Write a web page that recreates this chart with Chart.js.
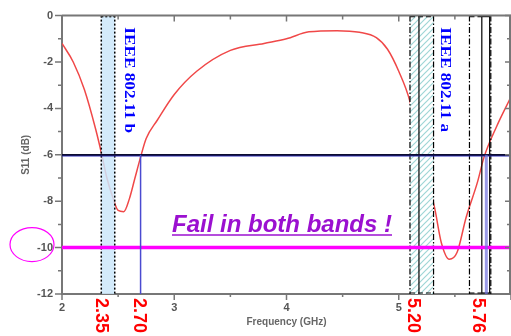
<!DOCTYPE html>
<html lang="en">
<head>
  <meta charset="UTF-8" />
  <title>S11</title>
  <script src="https://cdn.jsdelivr.net/npm/chart.js"></script>
  <style>
    body { margin: 0; background: #ffffff; }
    canvas { display: block; }
  </style>
</head>
<body>
  <canvas id="s11Chart" width="511" height="336"></canvas>

  <script>
    // measured curve
    const freq = [2.0, 2.1, 2.2, 2.3, 2.35, 2.4, 2.45, 2.5, 2.55, 2.6, 2.65, 2.7, 2.75, 2.85, 3.0, 3.2, 3.5, 3.8, 4.0, 4.2, 4.45, 4.65, 4.8, 4.9, 5.0, 5.1, 5.2, 5.32, 5.38, 5.45, 5.52, 5.6, 5.7, 5.76, 5.87, 6.0];
    const s11 = [-1.2, -2.0, -3.2, -4.9, -5.9, -7.0, -7.8, -8.4, -8.45, -7.9, -7.0, -6.1, -5.3, -4.5, -3.4, -2.4, -1.5, -1.2, -1.0, -0.7, -0.65, -0.72, -0.95, -1.45, -2.4, -3.7, -6.0, -8.3, -9.8, -10.5, -10.2, -8.7, -7.2, -6.1, -4.8, -3.5];

    // bands / markers (GHz)
    const bandB = [2.35, 2.47];
    const bandA = [5.10, 5.31];
    const bandAMid = 5.18;
    const bandC = [5.63, 5.82];
    const bandCInner = [5.74, 5.81];
    const markerLines = [2.70, 5.78];
    const limits = [-6, -10];
    const redLabels = ['2.35', '2.70', '5.20', '5.76'];
    const redLabelAt = [2.35, 2.69, 5.125, 5.71];
    const bandTexts = ['IEEE 802.11 b', 'IEEE 802.11 a'];
    const bandTextAt = [2.595, 5.415];

    function hatch() {
      const c = document.createElement('canvas');
      c.width = 6; c.height = 6;
      const g = c.getContext('2d');
      g.fillStyle = '#ffffff';
      g.fillRect(0, 0, 6, 6);
      g.strokeStyle = '#9fd6d6';
      g.lineWidth = 1.2;
      g.beginPath();
      g.moveTo(0, 6); g.lineTo(6, 0);
      g.moveTo(-3, 3); g.lineTo(3, -3);
      g.moveTo(3, 9); g.lineTo(9, 3);
      g.stroke();
      return g.createPattern(c, 'repeat');
    }

    const extras = {
      id: 'extras',
      afterDatasetsDraw(chart) {
        const ctx = chart.ctx;
        const x = chart.scales.x, y = chart.scales.y;
        const a = chart.chartArea;
        const px = v => x.getPixelForValue(v);
        const py = v => y.getPixelForValue(v);

        const vline = (v, dash, color, w) => {
          ctx.save();
          ctx.strokeStyle = color; ctx.lineWidth = w; ctx.setLineDash(dash);
          ctx.beginPath(); ctx.moveTo(px(v), a.top); ctx.lineTo(px(v), a.bottom); ctx.stroke();
          ctx.restore();
        };
        const hseg = (v0, v1, yy, dash, color, w) => {
          ctx.save();
          ctx.strokeStyle = color; ctx.lineWidth = w; ctx.setLineDash(dash);
          ctx.beginPath(); ctx.moveTo(px(v0), yy); ctx.lineTo(px(v1), yy); ctx.stroke();
          ctx.restore();
        };

        // 802.11b band
        ctx.save();
        ctx.fillStyle = 'rgba(204,232,250,0.85)';
        ctx.fillRect(px(bandB[0]), a.top, px(bandB[1]) - px(bandB[0]), a.bottom - a.top);
        ctx.restore();
        vline(bandB[0], [2, 2], '#000', 1.5);
        vline(bandB[1], [2, 2], '#000', 1.5);
        hseg(bandB[0], bandB[1], a.top + 1, [2, 2], '#000', 1.5);

        // 802.11a band
        ctx.save();
        ctx.fillStyle = hatch();
        ctx.fillRect(px(bandA[0]), a.top, px(bandA[1]) - px(bandA[0]), a.bottom - a.top);
        ctx.restore();
        const dd = [6, 2, 1.5, 2];
        vline(bandA[0], dd, '#000', 1.2);
        vline(bandA[1], dd, '#000', 1.2);
        vline(bandAMid, [], '#000', 1.2);
        hseg(bandA[0], bandA[1], a.top + 1, [5, 3], '#000', 1.2);
        hseg(bandA[0], bandA[1], a.bottom - 1, [5, 3], '#000', 1.2);

        // 5.76 group
        vline(bandC[0], dd, '#000', 1.2);
        vline(bandC[1], dd, '#000', 1.2);
        hseg(bandC[0], bandCInner[0], a.top + 1, [5, 3], '#000', 1.2);
        hseg(bandC[0], bandCInner[0], a.bottom - 1, [5, 3], '#000', 1.2);
        ctx.save();
        ctx.strokeStyle = '#000'; ctx.lineWidth = 1.2;
        ctx.strokeRect(px(bandCInner[0]), a.top + 1, px(bandCInner[1]) - px(bandCInner[0]), a.bottom - a.top - 2);
        ctx.restore();

        // limit lines
        ctx.save();
        ctx.strokeStyle = '#3030c0'; ctx.lineWidth = 2.5;
        ctx.beginPath(); ctx.moveTo(a.left, py(limits[0]) + 0.5); ctx.lineTo(a.right, py(limits[0]) + 0.5); ctx.stroke();
        ctx.strokeStyle = '#000'; ctx.lineWidth = 1.2;
        ctx.beginPath(); ctx.moveTo(a.left, py(limits[0])); ctx.lineTo(a.right, py(limits[0])); ctx.stroke();
        ctx.strokeStyle = '#ff00ff'; ctx.lineWidth = 3.5;
        ctx.beginPath(); ctx.moveTo(a.left, py(limits[1])); ctx.lineTo(a.right, py(limits[1])); ctx.stroke();
        ctx.restore();

        // blue markers from -6 down
        ctx.save();
        ctx.strokeStyle = '#4a4ad0'; ctx.lineWidth = 1.5;
        ctx.beginPath(); ctx.moveTo(px(markerLines[0]), py(limits[0])); ctx.lineTo(px(markerLines[0]), a.bottom); ctx.stroke();
        ctx.strokeStyle = 'rgba(110,110,220,0.7)'; ctx.lineWidth = 3;
        ctx.beginPath(); ctx.moveTo(px(markerLines[1]), py(limits[0])); ctx.lineTo(px(markerLines[1]), a.bottom); ctx.stroke();
        ctx.restore();

        // band names (tall, narrow serif)
        ctx.save();
        ctx.fillStyle = '#0000ff';
        ctx.font = 'bold 15px "Liberation Serif", serif';
        ctx.textBaseline = 'middle';
        bandTexts.forEach((t, i) => {
          ctx.save();
          ctx.translate(px(bandTextAt[i]), py(-0.5));
          ctx.rotate(Math.PI / 2);
          ctx.scale(1.15, 1);
          ctx.fillText(t, 0, 0);
          ctx.restore();
        });
        ctx.restore();

        // fail text
        ctx.save();
        ctx.fillStyle = '#9b10d0';
        ctx.font = 'italic bold 24px "Liberation Sans", Arial, sans-serif';
        ctx.textBaseline = 'alphabetic';
        const tx = px(2.98), ty = py(-9.33);
        ctx.fillText('Fail in both bands !', tx, ty);
        const w = ctx.measureText('Fail in both bands !').width;
        ctx.strokeStyle = '#9b10d0'; ctx.lineWidth = 1.5;
        ctx.beginPath(); ctx.moveTo(tx, ty + 3); ctx.lineTo(tx + w, ty + 3); ctx.stroke();
        ctx.restore();

        // frame top/right + minor ticks
        ctx.save();
        ctx.strokeStyle = '#777'; ctx.lineWidth = 2;
        ctx.beginPath();
        ctx.moveTo(a.left, a.top); ctx.lineTo(a.right, a.top);
        ctx.moveTo(a.right - 1, a.top); ctx.lineTo(a.right - 1, a.bottom);
        ctx.stroke();
        ctx.lineWidth = 1.5;
        ctx.beginPath();
        for (let f = 2; f <= 6.001; f += 0.5) {
          const major = Math.abs(f - Math.round(f)) < 1e-6;
          const xx = px(f);
          ctx.moveTo(xx, a.top); ctx.lineTo(xx, a.top + (major ? 6 : 4));
          ctx.moveTo(xx, a.bottom); ctx.lineTo(xx, a.bottom + (major ? 6 : 3));
        }
        for (let d = 0; d >= -12; d--) {
          const major = d % 2 === 0;
          const yy = py(d);
          ctx.moveTo(a.left, yy); ctx.lineTo(a.left - (major ? 7 : 4), yy);
          ctx.moveTo(a.right, yy); ctx.lineTo(a.right - (major ? 6 : 4), yy);
        }
        ctx.stroke();
        ctx.restore();

        // circle round -10
        ctx.save();
        ctx.strokeStyle = '#ff00ff'; ctx.lineWidth = 1.2;
        ctx.beginPath();
        ctx.ellipse(y.left + 32, py(limits[1]) - 3, 22, 17, 0, 0, Math.PI * 2);
        ctx.stroke();
        ctx.restore();

        // red frequency labels
        ctx.save();
        ctx.fillStyle = '#ff0000';
        ctx.font = 'bold 18px "Liberation Sans", Arial, sans-serif';
        ctx.textBaseline = 'middle';
        redLabels.forEach((t, i) => {
          ctx.save();
          ctx.translate(px(redLabelAt[i]), a.bottom + 4);
          ctx.rotate(Math.PI / 2);
          ctx.fillText(t, 0, 0);
          ctx.restore();
        });
        ctx.restore();
      }
    };

    new Chart(document.getElementById('s11Chart').getContext('2d'), {
      type: 'line',
      data: {
        datasets: [{
          data: freq.map((f, i) => ({ x: f, y: s11[i] })),
          borderColor: '#f04848',
          borderWidth: 1.5,
          pointRadius: 0,
          cubicInterpolationMode: 'monotone',
          fill: false
        }]
      },
      options: {
        responsive: false,
        animation: false,
        layout: { padding: { top: 15, right: 0, left: 0, bottom: 0 } },
        plugins: { legend: { display: false }, tooltip: { enabled: false } },
        scales: {
          x: {
            type: 'linear', min: 2, max: 6,
            afterFit: s => { s.height = 42; s.paddingRight = 0; s.paddingLeft = 0; },
            grid: { display: false, drawTicks: false },
            border: { display: true, color: '#777', width: 2 },
            ticks: {
              stepSize: 1, padding: 7, color: '#555', maxRotation: 0,
              font: { family: 'Liberation Sans', size: 11, weight: 'bold' },
              callback: v => (v === 6 ? '' : v)
            },
            title: {
              display: true, text: 'Frequency (GHz)', color: '#666',
              font: { family: 'Liberation Sans', size: 10, weight: 'bold' },
              padding: { top: 0, bottom: 8 }
            }
          },
          y: {
            min: -12, max: 0,
            afterFit: s => { s.width = 62; },
            grid: { display: false, drawTicks: false },
            border: { display: true, color: '#777', width: 2 },
            ticks: {
              stepSize: 1, padding: 9, color: '#555',
              font: { family: 'Liberation Sans', size: 11, weight: 'bold' },
              callback: v => (v % 2 === 0 ? v : '')
            },
            title: {
              display: true, text: 'S11 (dB)', color: '#666',
              font: { family: 'Liberation Sans', size: 10, weight: 'bold' },
              padding: { top: 20, bottom: 0 }
            }
          }
        }
      },
      plugins: [extras]
    });
  </script>
</body>
</html>
